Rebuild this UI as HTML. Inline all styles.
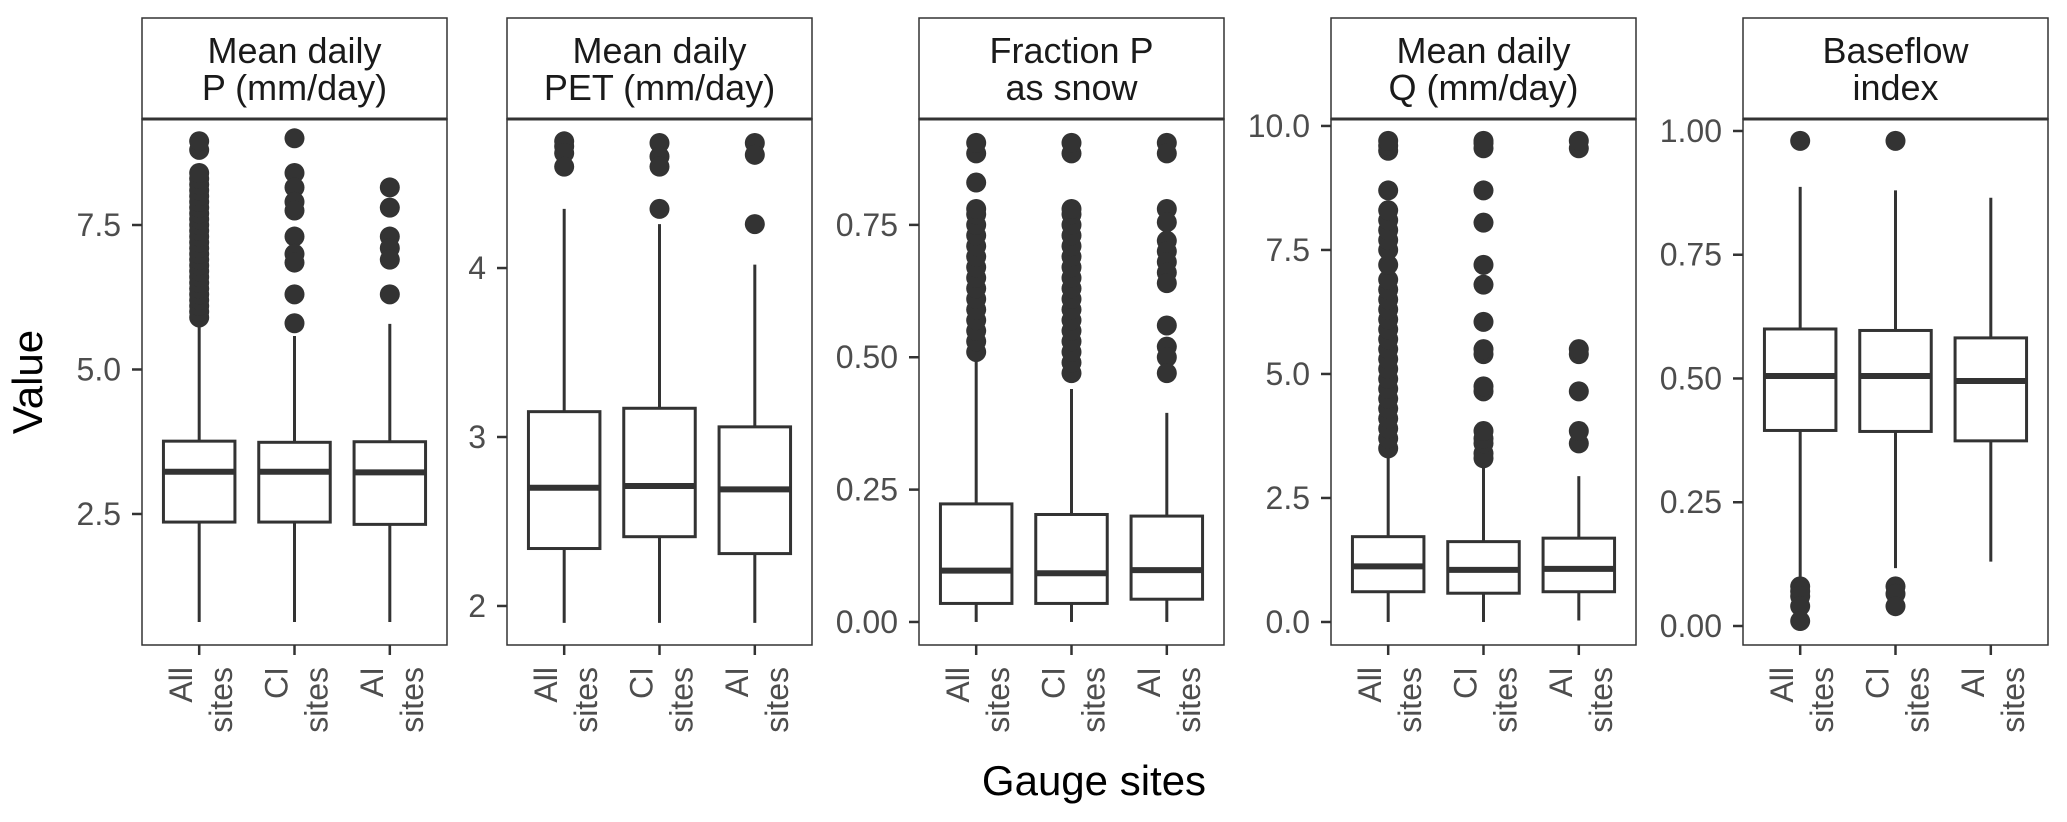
<!DOCTYPE html>
<html><head><meta charset="utf-8"><style>
html,body{margin:0;padding:0;background:#fff;}
svg{display:block;font-family:"Liberation Sans",sans-serif;}
</style></head><body>
<svg id="chart" width="2067" height="822" viewBox="0 0 2067 822">
<text x="31" y="382" font-size="42" fill="#000" text-anchor="middle" transform="rotate(-90 31 382)" dominant-baseline="middle">Value</text>
<text x="1094" y="795" font-size="42" fill="#000" text-anchor="middle">Gauge sites</text>
</svg>
<script>
const categories = [["All","sites"],["CI","sites"],["AI","sites"]];
const panelTitles = [["Mean daily","P (mm/day)"],["Mean daily","PET (mm/day)"],["Fraction P","as snow"],["Mean daily","Q (mm/day)"],["Baseflow","index"]];
const yDomains = [[0.233,9.334],[1.769,4.882],[-0.0435,0.950],[-0.464,10.14],[-0.0384,1.0242]];
const yTicks = [[2.5,5.0,7.5],[2,3,4],[0,0.25,0.5,0.75],[0,2.5,5,7.5,10],[0,0.25,0.5,0.75,1]];
const yTickLabels = [["2.5","5.0","7.5"],["2","3","4"],["0.00","0.25","0.50","0.75"],["0.0","2.5","5.0","7.5","10.0"],["0.00","0.25","0.50","0.75","1.00"]];
const q1 = [[2.36,2.36,2.32],[2.34,2.41,2.31],[0.035,0.035,0.043],[0.61,0.58,0.61],[0.395,0.393,0.374]];
const med = [[3.23,3.23,3.22],[2.70,2.71,2.69],[0.097,0.092,0.098],[1.12,1.05,1.07],[0.505,0.505,0.495]];
const q3 = [[3.76,3.74,3.75],[3.15,3.17,3.06],[0.223,0.203,0.200],[1.72,1.62,1.69],[0.600,0.597,0.582]];
const whiskLo = [[0.63,0.63,0.63],[1.9,1.9,1.9],[0,0,0],[0,0,0.03],[0.10,0.117,0.13]];
const whiskHi = [[5.86,5.58,5.79],[4.35,4.26,4.02],[0.51,0.44,0.395],[3.47,3.2,2.94],[0.887,0.88,0.865]];
const outliers = [
 [[5.9,6.0,6.1,6.2,6.3,6.4,6.5,6.6,6.7,6.8,6.9,7.0,7.1,7.2,7.3,7.4,7.5,7.6,7.7,7.8,7.9,8.0,8.1,8.2,8.3,8.4,8.8,8.95],
  [9.0,8.4,8.15,7.9,7.75,7.3,7.0,6.85,6.3,5.8],
  [8.15,7.8,7.3,7.1,6.9,6.3]],
 [[4.75,4.72,4.68,4.6],[4.74,4.66,4.6,4.35],[4.74,4.67,4.26]],
 [[0.51,0.53,0.55,0.57,0.59,0.61,0.63,0.65,0.67,0.69,0.71,0.73,0.75,0.77,0.78,0.83,0.885,0.905],
  [0.47,0.49,0.51,0.53,0.55,0.57,0.59,0.61,0.63,0.65,0.67,0.69,0.71,0.73,0.75,0.77,0.78,0.885,0.905],
  [0.905,0.885,0.78,0.755,0.72,0.70,0.68,0.66,0.64,0.56,0.52,0.50,0.47]],
 [[3.5,3.7,3.9,4.1,4.3,4.5,4.7,4.9,5.1,5.3,5.5,5.7,5.9,6.1,6.3,6.5,6.7,6.9,7.2,7.5,7.7,7.9,8.1,8.3,8.7,9.5,9.6,9.7],
  [3.3,3.4,3.6,3.7,3.85,4.65,4.75,5.4,5.5,6.05,6.8,7.2,8.05,8.7,9.55,9.65,9.7],
  [3.6,3.85,4.65,5.4,5.5,9.55,9.7]],
 [[0.98,0.08,0.07,0.06,0.04,0.01],[0.98,0.08,0.065,0.04],[]]
];
const NS="http://www.w3.org/2000/svg";
const svg=document.getElementById('chart');
const panelLefts=[142,507,919,1331,1743];
const PW=305, TOP=18, STRIP_B=119, BOT=645;
function mk(tag,attrs,parent){const e=document.createElementNS(NS,tag);for(const k in attrs)e.setAttribute(k,attrs[k]);(parent||svg).appendChild(e);return e;}
panelTitles.forEach((title,p)=>{
  const L=panelLefts[p];
  const g=mk('g',{});
  
  
  const [d0,d1]=yDomains[p];
  const y=v=>BOT-(v-d0)/(d1-d0)*(BOT-STRIP_B);
  const step=PW/3.2;
  const x=i=>L+step*(0.6+i);
  const st=mk('rect',{x:L,y:TOP,width:PW,height:STRIP_B-TOP,fill:'#fff',stroke:'#333','stroke-width':1.5},g);
  
  
  title.forEach((t,i)=>{const tx=mk('text',{x:L+PW/2,y:TOP+45+i*37,'font-size':36,'text-anchor':'middle',fill:'#1a1a1a'},g);tx.textContent=t;
    
    });
  const pr=mk('rect',{x:L,y:STRIP_B,width:PW,height:BOT-STRIP_B,fill:'#fff',stroke:'#333','stroke-width':1.5},g);
  
  
  mk('line',{x1:L,x2:L+PW,y1:STRIP_B,y2:STRIP_B,stroke:'#333','stroke-width':3},g);
  yTicks[p].forEach((t,i)=>{
    mk('line',{x1:L-10,x2:L,y1:y(t),y2:y(t),stroke:'#333','stroke-width':2.5},g);
    const tl=mk('text',{x:L-21,y:y(t)+11,'font-size':32,'text-anchor':'end',fill:'#4d4d4d'},g);
    tl.textContent=yTickLabels[p][i];
    
    
  });
  categories.forEach((c,i)=>{
    const cx=x(i), bw=step*0.75;
    const bg=mk('g',{},g);
    
    
    mk('line',{x1:cx,x2:cx,y1:y(whiskHi[p][i]),y2:y(q3[p][i]),stroke:'#333','stroke-width':3},bg);
    mk('line',{x1:cx,x2:cx,y1:y(q1[p][i]),y2:y(whiskLo[p][i]),stroke:'#333','stroke-width':3},bg);
    mk('rect',{x:cx-bw/2,y:y(q3[p][i]),width:bw,height:y(q1[p][i])-y(q3[p][i]),fill:'#fff',stroke:'#333','stroke-width':3},bg);
    mk('line',{x1:cx-bw/2,x2:cx+bw/2,y1:y(med[p][i]),y2:y(med[p][i]),stroke:'#333','stroke-width':6},bg);
    outliers[p][i].forEach(v=>{const d=mk('circle',{cx:cx,cy:y(v),r:10,fill:'#333'},bg);
      
      });
    mk('line',{x1:cx,x2:cx,y1:BOT,y2:BOT+10,stroke:'#333','stroke-width':2.5},g);
    c.forEach((w,j)=>{const tx=mk('text',{x:0,y:0,'font-size':32,'text-anchor':'end',fill:'#4d4d4d',
      transform:`translate(${cx-7+j*40},${BOT+22}) rotate(-90)`},g);tx.textContent=w;
      
      });
  });
});
</script>
</body></html>
